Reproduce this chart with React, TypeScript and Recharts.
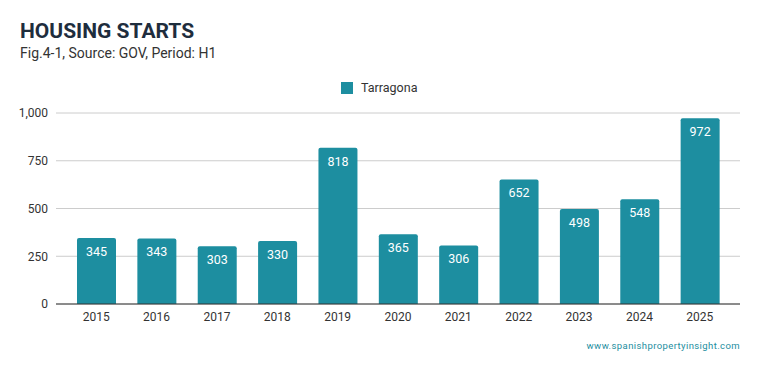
import React from "react";
import { BarChart, Bar, XAxis, YAxis, CartesianGrid, LabelList } from "recharts";

const years = ["2015", "2016", "2017", "2018", "2019", "2020", "2021", "2022", "2023", "2024", "2025"];
const tarragona = [345, 343, 303, 330, 818, 365, 306, 652, 498, 548, 972];
const yTicks = [0, 250, 500, 750, 1000];

const data = years.map((y, i) => ({ year: y, Tarragona: tarragona[i] }));

const COLOR = "#1d8ea0";
const FONT = "Roboto, 'Noto Sans', sans-serif";

export default function App() {
  return (
    <div style={{ position: "absolute", left: 0, top: 0, width: 759, height: 371, background: "#fff", fontFamily: FONT }}>
      <div style={{ position: "absolute", left: 20, top: 19, fontSize: 21, fontWeight: 700, color: "#1e2d3d", lineHeight: "24px" }}>
        HOUSING STARTS
      </div>
      <div style={{ position: "absolute", left: 20, top: 44, fontSize: 14, color: "#333", lineHeight: "18px" }}>
        Fig.4-1, Source: GOV, Period: H1
      </div>
      <div style={{ position: "absolute", left: 341, top: 80, display: "flex", alignItems: "center", fontSize: 12.5, color: "#333" }}>
        <div style={{ width: 12, height: 12, background: COLOR, marginRight: 8 }} />
        <span>Tarragona</span>
      </div>
      <BarChart
        width={759}
        height={371}
        data={data}
        margin={{ top: 113, right: 19, bottom: 37, left: 0 }}
        style={{ position: "absolute", left: 0, top: 0 }}
      >
        <CartesianGrid vertical={false} stroke="#cccccc" />
        <XAxis
          dataKey="year"
          axisLine={{ stroke: "#333" }}
          tickLine={false}
          padding={{ left: 10, right: 10 }}
          tick={{ fill: "#333", fontSize: 12, fontFamily: FONT }}
          height={30}
        />
        <YAxis
          width={56}
          domain={[0, 1000]}
          ticks={yTicks}
          axisLine={false}
          tickLine={false}
          tickFormatter={(v: number) => v.toLocaleString("en-US")}
          tick={{ fill: "#333", fontSize: 12, fontFamily: FONT }}
        />
        <Bar dataKey="Tarragona" fill={COLOR} barSize={39} radius={[2, 2, 0, 0]} isAnimationActive={false}>
          <LabelList dataKey="Tarragona" position="insideTop" offset={9} fill="#fff" fontSize={12.5} fontFamily={FONT} />
        </Bar>
      </BarChart>
      <div style={{ position: "absolute", right: 19, top: 340, fontSize: 9.5, color: "#1d8ea0", letterSpacing: 0.4 }}>
        www.spanishpropertyinsight.com
      </div>
    </div>
  );
}
